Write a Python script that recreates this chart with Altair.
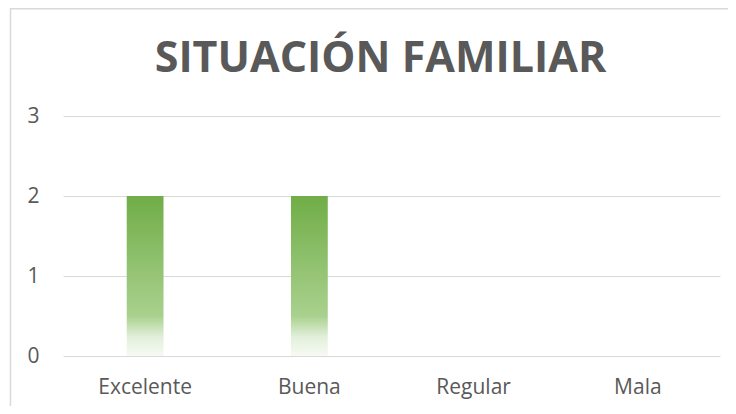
import altair as alt
import pandas as pd

categories = ["Excelente", "Buena", "Regular", "Mala"]
values = [2, 2, 0, 0]
title_text = ["SITUACIÓN FAMILIAR"]

df = pd.DataFrame({"cat": categories, "val": values})

grad = alt.Gradient(
    gradient="linear",
    x1=0, x2=0, y1=0, y2=1,
    stops=[
        alt.GradientStop(color="#70AD47", offset=0),
        alt.GradientStop(color="#A9D18E", offset=0.75),
        alt.GradientStop(color="#E2EFDA", offset=0.88),
        alt.GradientStop(color="#F7FAF4", offset=1),
    ],
)

bars = alt.Chart(df).mark_bar(color=grad).encode(
    x=alt.X("cat:N", sort=categories,
            scale=alt.Scale(paddingInner=0.776, paddingOuter=0.388),
            axis=alt.Axis(title=None, labelAngle=0, labelFontSize=21, labelColor="#595959",
                          labelFont="Open Sans", labelPadding=20, ticks=False, domain=False,
                          grid=False)),
    y=alt.Y("val:Q", scale=alt.Scale(domain=[0, 3]),
            axis=alt.Axis(title=None, values=[0, 1, 2, 3], labelFontSize=21, labelColor="#595959",
                          labelFont="Open Sans", labelPadding=24, ticks=False, domain=False,
                          gridColor="#d9d9d9", gridWidth=1)),
)

one = pd.DataFrame({"a": [0]})
border_top = alt.Chart(one).mark_rule(stroke="#d9d9d9", strokeWidth=1.5).encode(
    x=alt.value(-53), x2=alt.value(680), y=alt.value(-107.2), y2=alt.value(-107.2)
)
border_left = alt.Chart(one).mark_rule(stroke="#d9d9d9", strokeWidth=1.5).encode(
    x=alt.value(-52.5), x2=alt.value(-52.5), y=alt.value(-108), y2=alt.value(300)
)

title = alt.Chart(pd.DataFrame({"t": title_text})).mark_text(
    fontSize=43, font="Open Sans", fontWeight="bold", color="#595959",
    align="center", baseline="alphabetic"
).encode(text="t:N", x=alt.value(317.5), y=alt.value(-44))

chart = alt.layer(border_top, border_left, title, bars).properties(
    width=657, height=240,
    autosize=alt.AutoSizeParams(type="none"),
    padding={"left": 55, "top": 108, "right": 8, "bottom": 50},
    background="white",
).configure_view(strokeWidth=0)

chart.save("out.html", embed_options={"renderer": "svg", "actions": False})
